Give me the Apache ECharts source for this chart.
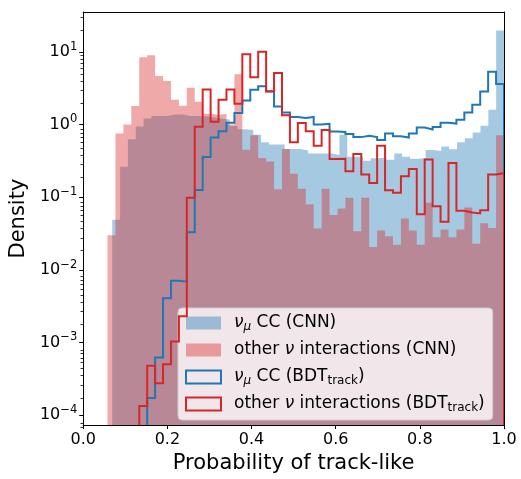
<!DOCTYPE html>
<html>
<head>
<meta charset="utf-8">
<script src="https://cdn.jsdelivr.net/npm/echarts@6/dist/echarts.min.js"></script>
<style>
  html, body { margin: 0; padding: 0; background: #ffffff; }
  #chart { width: 521px; height: 479px; }
</style>
</head>
<body>
<div id="chart"></div>
<script>
// ---- binning: 50 equal-width bins per histogram ----
const nBins = 50;
const cnnOtherRange = [0.0578, 1.0];
const cnnNumuRange = [0.069, 1.0];
const bdtRange = [0.0578, 1.0];

// ---- densities per bin ----
// nu_mu CC, CNN score (filled)
const numuCnn = [0.049, 0.263, 0.625, 0.94, 1.21, 1.31, 1.31, 1.37, 1.37, 1.31,
                 1.31, 1.3, 1.25, 1.2, 1.17, 0.95, 0.86, 0.84, 0.72, 0.57,
                 0.53, 0.53, 0.46, 0.46, 0.44, 0.40, 0.40, 0.40, 0.38, 0.72,
                 0.36, 0.36, 0.317, 0.344, 0.35, 0.327, 0.40, 0.36, 0.337, 0.345,
                 0.447, 0.433, 0.497, 0.457, 0.569, 0.645, 0.778, 0.96, 1.6, 19.6];
// other interactions, CNN score (filled)
const otherCnn = [0.030, 0.75, 1.0, 1.8, 8.4, 9.0, 4.64, 3.97, 2.19, 1.81,
                  3.19, 2.06, 1.41, 1.35, 1.40, 1.0, 4.9, 0.45, 0.71, 0.345,
                  0.31, 0.128, 0.46, 0.21, 0.13, 0.08, 0.037, 0.13, 0.0566, 0.070,
                  0.098, 0.034, 0.098, 0.0206, 0.0347, 0.029, 0.0222, 0.051, 0.0347, 0.0222,
                  0.084, 0.028, 0.036, 0.028, 0.036, 0.072, 0.0228, 0.0436, 0.0377, 0.71];
// nu_mu CC, BDT_track score (step)
const numuBdt = [0, 0, 0, 0, 0, 1.72e-4, 6.2e-4, 4.07e-3, 7.08e-3, 6.87e-3,
                 0.0329, 0.125, 0.356, 0.66, 0.81, 1.06, 1.44, 2.14, 3.0, 3.36,
                 2.87, 1.77, 1.46, 1.27, 1.23, 1.27, 1.0, 1.02, 0.80, 0.79,
                 0.74, 0.67, 0.70, 0.67, 0.61, 0.75, 0.69, 0.66, 0.75, 0.91,
                 0.855, 0.92, 1.06, 1.03, 1.16, 1.46, 1.87, 2.84, 5.3, 3.6];
// other interactions, BDT_track score (step)
const otherBdt = [0, 0, 0, 0, 1.34e-4, 4.79e-4, 2.75e-4, 5.0e-4, 1.03e-3, 2.3e-3,
                  0.098, 0.93, 3.03, 1.09, 2.19, 3.03, 1.93, 9.25, 4.46, 10.0,
                  2.84, 5.1, 1.34, 0.57, 1.05, 0.81, 0.51, 0.84, 0.334, 0.337,
                  0.227, 0.394, 0.205, 0.157, 0.51, 0.124, 0.115, 0.194, 0.244, 0.058,
                  0.33, 0.075, 0.046, 0.294, 0.065, 0.0615, 0.0597, 0.066, 0.205, 0.213];

// ---- axes ----
const xTicks = [0, 0.2, 0.4, 0.6, 0.8, 1.0];
const yMajorTicks = [1e-4, 1e-3, 1e-2, 1e-1, 1, 10];
const yRange = [7.3e-5, 35.3];

const legendLabels = {
  numuCnn: '{i|\u03bd}{sub|\u03bc} CC (CNN)',
  otherCnn: 'other {i|\u03bd} interactions (CNN)',
  numuBdt: '{i|\u03bd}{sub|\u03bc} CC (BDT{sub2|track})',
  otherBdt: 'other {i|\u03bd} interactions (BDT{sub2|track})'
};

const FONT = 'DejaVu Sans';
const BLUE = '#1f77b4';
const RED = '#d62728';
const BLUE_FILL = 'rgba(31,119,180,0.4)';
const RED_FILL = 'rgba(214,39,40,0.4)';
const FLOOR = 1e-7; // below the visible range, clipped by the grid

function binEdges(range) {
  const w = (range[1] - range[0]) / nBins;
  const e = [];
  for (let i = 0; i <= nBins; i++) e.push(range[0] + i * w);
  return e;
}

// Step outline of a histogram, from the first filled bin to the last edge
function outline(range, vals) {
  const e = binEdges(range);
  const pts = [];
  let started = false;
  for (let i = 0; i < nBins; i++) {
    const v = vals[i];
    if (!started) {
      if (!(v > 0)) continue;
      started = true;
      pts.push([e[i], FLOOR]);
    }
    const y = v > 0 ? v : FLOOR;
    pts.push([e[i], y]);
    pts.push([e[i + 1], y]);
  }
  pts.push([e[nBins], FLOOR]);
  return pts;
}

const minorTicks = [];
for (let p = -5; p <= 1; p++) {
  for (let m = 2; m <= 9; m++) {
    const v = m * Math.pow(10, p);
    if (v >= yRange[0] && v <= yRange[1]) minorTicks.push(v);
  }
}

function sup(e) {
  return e < 0 ? '\u2212' + (-e) : String(e);
}

const spine = { color: '#000000', width: 1 };

const chart = echarts.init(document.getElementById('chart'), null, { renderer: 'canvas' });

chart.setOption({
  animation: false,
  backgroundColor: '#ffffff',
  textStyle: { fontFamily: FONT },
  grid: [
    { left: 83, right: 17, top: 12, bottom: 49 },
    { left: 83, right: 17, top: 12, bottom: 49 }
  ],
  xAxis: [
    {
      type: 'value', gridIndex: 0, position: 'bottom', min: 0, max: 1, interval: 0.2, z: 10,
      axisLine: { show: true, onZero: false, lineStyle: spine },
      axisTick: { show: true, length: 4, lineStyle: spine },
      axisLabel: { fontSize: 16, color: '#000', margin: 7, fontFamily: FONT,
                   formatter: v => v.toFixed(1) },
      splitLine: { show: false },
      name: 'Probability of track-like', nameLocation: 'middle', nameGap: 26,
      nameTextStyle: { fontSize: 21, color: '#000', fontFamily: FONT }
    },
    {
      type: 'value', gridIndex: 0, position: 'top', min: 0, max: 1, z: 10,
      axisLine: { show: true, onZero: false, lineStyle: spine },
      axisTick: { show: false }, axisLabel: { show: false }, splitLine: { show: false }
    },
    { type: 'value', gridIndex: 1, min: 0, max: 1, show: false }
  ],
  yAxis: [
    {
      type: 'log', logBase: 10, gridIndex: 0, position: 'left', min: yRange[0], max: yRange[1], z: 10,
      axisLine: { show: true, onZero: false, lineStyle: spine },
      axisTick: { show: true, length: 4, lineStyle: spine, customValues: yMajorTicks },
      axisLabel: {
        customValues: yMajorTicks, margin: 6, color: '#000', fontFamily: FONT,
        formatter: v => '{b|10}{s|' + sup(Math.round(Math.log10(v))) + '}',
        rich: {
          b: { fontSize: 16, lineHeight: 22, color: '#000', fontFamily: FONT },
          s: { fontSize: 11.5, lineHeight: 11, verticalAlign: 'top', color: '#000', fontFamily: FONT }
        }
      },
      splitLine: { show: false },
      name: 'Density', nameLocation: 'middle', nameGap: 52,
      nameTextStyle: { fontSize: 21, color: '#000', fontFamily: FONT }
    },
    {
      type: 'log', logBase: 10, gridIndex: 0, position: 'right', min: yRange[0], max: yRange[1], z: 10,
      axisLine: { show: true, onZero: false, lineStyle: spine },
      axisTick: { show: false }, axisLabel: { show: false }, splitLine: { show: false }
    },
    {
      type: 'log', logBase: 10, gridIndex: 1, position: 'left', min: yRange[0], max: yRange[1], z: 10,
      axisLine: { show: false },
      axisTick: { show: true, length: 2.5, lineStyle: { color: '#000', width: 0.8 }, customValues: minorTicks },
      axisLabel: { show: false }, splitLine: { show: false }
    }
  ],
  legend: {
    orient: 'vertical', left: 178, top: 308,
    itemWidth: 35, itemHeight: 13, itemGap: 7,
    padding: [5, 8, 6, 7],
    backgroundColor: 'rgba(255,255,255,0.8)',
    borderColor: '#cccccc', borderWidth: 1, borderRadius: 4,
    selectedMode: false,
    formatter: name => legendLabels[name],
    textStyle: {
      fontSize: 17, lineHeight: 20, color: '#000', fontFamily: FONT, padding: [0, 0, 0, 8],
      rich: {
        i: { fontSize: 17, fontStyle: 'italic', color: '#000', fontFamily: FONT },
        sub: { fontSize: 12, fontStyle: 'italic', lineHeight: 13, verticalAlign: 'bottom', color: '#000', fontFamily: FONT },
        sub2: { fontSize: 12, lineHeight: 13, verticalAlign: 'bottom', color: '#000', fontFamily: FONT }
      }
    },
    data: [
      { name: 'numuCnn', icon: 'rect', itemStyle: { color: BLUE_FILL, borderWidth: 0 } },
      { name: 'otherCnn', icon: 'rect', itemStyle: { color: RED_FILL, borderWidth: 0 } },
      { name: 'numuBdt', icon: 'rect', itemStyle: { color: 'rgba(0,0,0,0)', borderColor: BLUE, borderWidth: 2 } },
      { name: 'otherBdt', icon: 'rect', itemStyle: { color: 'rgba(0,0,0,0)', borderColor: RED, borderWidth: 2 } }
    ]
  },
  series: [
    {
      name: 'numuCnn', type: 'line', xAxisIndex: 0, yAxisIndex: 0, z: 2,
      data: outline(cnnNumuRange, numuCnn), symbol: 'none', silent: true,
      lineStyle: { width: 0, color: BLUE_FILL }, itemStyle: { color: BLUE_FILL },
      areaStyle: { color: BLUE_FILL, opacity: 1, origin: 'start' }
    },
    {
      name: 'otherCnn', type: 'line', xAxisIndex: 0, yAxisIndex: 0, z: 3,
      data: outline(cnnOtherRange, otherCnn), symbol: 'none', silent: true,
      lineStyle: { width: 0, color: RED_FILL }, itemStyle: { color: RED_FILL },
      areaStyle: { color: RED_FILL, opacity: 1, origin: 'start' }
    },
    {
      name: 'numuBdt', type: 'line', xAxisIndex: 0, yAxisIndex: 0, z: 4,
      data: outline(bdtRange, numuBdt), symbol: 'none', silent: true,
      lineStyle: { width: 2, color: BLUE, join: 'miter' }, itemStyle: { color: BLUE }
    },
    {
      name: 'otherBdt', type: 'line', xAxisIndex: 0, yAxisIndex: 0, z: 5,
      data: outline(bdtRange, otherBdt), symbol: 'none', silent: true,
      lineStyle: { width: 2, color: RED, join: 'miter' }, itemStyle: { color: RED }
    }
  ]
});
</script>
</body>
</html>
